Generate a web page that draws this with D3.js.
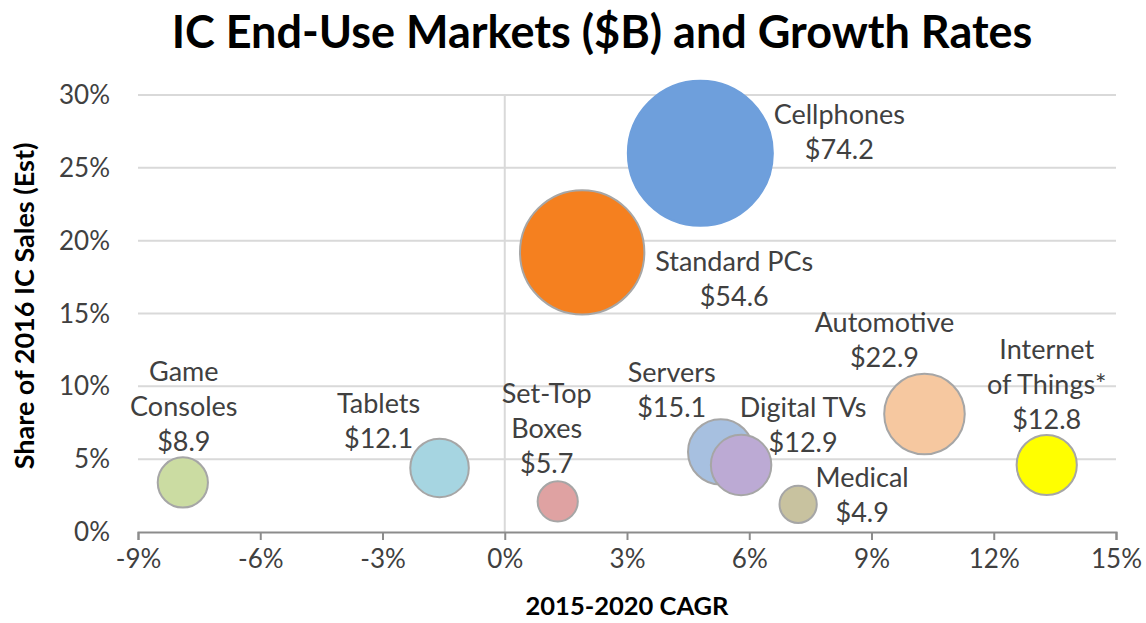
<!DOCTYPE html>
<html>
<head>
<meta charset="utf-8">
<script src="https://cdn.jsdelivr.net/npm/d3@7"></script>
<style>
  body { margin: 0; background: #fff; }
  svg { display: block; font-family: Lato, sans-serif; }
</style>
</head>
<body>
<svg id="chart"></svg>
<script>
// data
const markets = ['Cellphones', 'Standard PCs', 'Automotive', 'Internet of Things*', 'Servers',
  'Digital TVs', 'Medical', 'Set-Top Boxes', 'Tablets', 'Game Consoles'];
const labelLines = [['Cellphones'], ['Standard PCs'], ['Automotive'], ['Internet', 'of Things*'], ['Servers'],
  ['Digital TVs'], ['Medical'], ['Set-Top', 'Boxes'], ['Tablets'], ['Game', 'Consoles']];
const cagr = [4.8, 1.9, 10.3, 13.3, 5.3, 5.8, 7.2, 1.3, -1.6, -7.9];
const share = [26.0, 19.2, 8.1, 4.6, 5.5, 4.6, 1.9, 2.1, 4.4, 3.4];
const sales = [74.2, 54.6, 22.9, 12.8, 15.1, 12.9, 4.9, 5.7, 12.1, 8.9];
const xTicks = [-9, -6, -3, 0, 3, 6, 9, 12, 15];
const yTicks = [0, 5, 10, 15, 20, 25, 30];

// look: colours and label placement (px from bubble centre)
const fills = ['#6e9fdc', '#f5801f', '#f6c8a0', '#ffff00', '#a7c0e0',
  '#bcaad4', '#c8c29f', '#dfa2a2', '#a6d5e1', '#cbdca2'];
const labelOffset = [[139, -39], [152, 9], [-40, -91], [0, -115], [-49, -79],
  [62, -57], [64, -27], [-11, -108], [-61, -64], [1, -111]];

const W = 1146, H = 623;
const svg = d3.select('#chart').attr('width', W).attr('height', H);

const x = d3.scaleLinear().domain([-9, 15]).range([138, 1116]);
const y = d3.scaleLinear().domain([0, 30]).range([532, 95]);
const r = d3.scaleSqrt().domain([0, 74.2]).range([0, 72.5]);

// 标题
svg.append('text')
  .attr('x', 602).attr('y', 48)
  .attr('text-anchor', 'middle')
  .style('font-size', '45px').style('font-weight', 'bold').style('fill', '#000')
  .text('IC End-Use Markets ($B) and Growth Rates');

// gridlines
svg.append('g')
  .selectAll('line')
  .data(yTicks.filter((d) => d > 0))
  .join('line')
  .attr('x1', x(-9)).attr('x2', x(15))
  .attr('y1', (d) => y(d)).attr('y2', (d) => y(d))
  .attr('stroke', '#d9d9d9').attr('stroke-width', 2);

// vertical axis at 0%
svg.append('line')
  .attr('x1', x(0)).attr('x2', x(0))
  .attr('y1', y(30)).attr('y2', y(0))
  .attr('stroke', '#d9d9d9').attr('stroke-width', 2);

// y tick labels
svg.append('g')
  .selectAll('text')
  .data(yTicks)
  .join('text')
  .attr('x', 110).attr('y', (d) => y(d))
  .attr('dy', '0.35em')
  .attr('text-anchor', 'end')
  .style('font-size', '26px').style('fill', '#404040')
  .text((d) => d + '%');

// X 轴
const xAxis = svg.append('g')
  .attr('transform', `translate(0,${y(0)})`)
  .call(d3.axisBottom(x).tickValues(xTicks).tickSize(8).tickPadding(10).tickFormat((d) => d + '%'));
xAxis.select('.domain').attr('stroke', '#8c8c8c').attr('stroke-width', 2);
xAxis.selectAll('.tick line').attr('stroke', '#8c8c8c').attr('stroke-width', 2);
xAxis.selectAll('.tick text')
  .style('font-size', '26px').style('fill', '#404040').style('font-family', 'Lato, sans-serif');

svg.append('text')
  .attr('x', 627).attr('y', 615)
  .attr('text-anchor', 'middle')
  .style('font-size', '25.5px').style('font-weight', 'bold').style('fill', '#000')
  .text('2015-2020 CAGR');

svg.append('text')
  .attr('transform', `translate(34,306) rotate(-90)`)
  .attr('text-anchor', 'middle')
  .style('font-size', '27px').style('font-weight', 'bold').style('fill', '#000')
  .text('Share of 2016 IC Sales (Est)');

// bubbles
const idx = d3.range(markets.length);
svg.append('g')
  .selectAll('circle')
  .data(idx)
  .join('circle')
  .attr('cx', (i) => x(cagr[i]))
  .attr('cy', (i) => y(share[i]))
  .attr('r', (i) => r(sales[i]))
  .attr('fill', (i) => fills[i])
  .attr('stroke', (i) => (i === 0 ? fills[i] : '#a6a6a6'))
  .attr('stroke-width', 2);

// labels
const labels = svg.append('g')
  .selectAll('text')
  .data(idx)
  .join('text')
  .attr('text-anchor', 'middle')
  .style('font-size', '27px').style('fill', '#404040');

labels.each(function (i) {
  const cx = x(cagr[i]) + labelOffset[i][0];
  const cy = y(share[i]) + labelOffset[i][1];
  const lines = labelLines[i].concat(['$' + sales[i].toFixed(1)]);
  d3.select(this)
    .selectAll('tspan')
    .data(lines)
    .join('tspan')
    .attr('x', cx)
    .attr('y', (d, k) => cy + k * 35)
    .attr('dy', '0.35em')
    .text((d) => d);
});
</script>
</body>
</html>
